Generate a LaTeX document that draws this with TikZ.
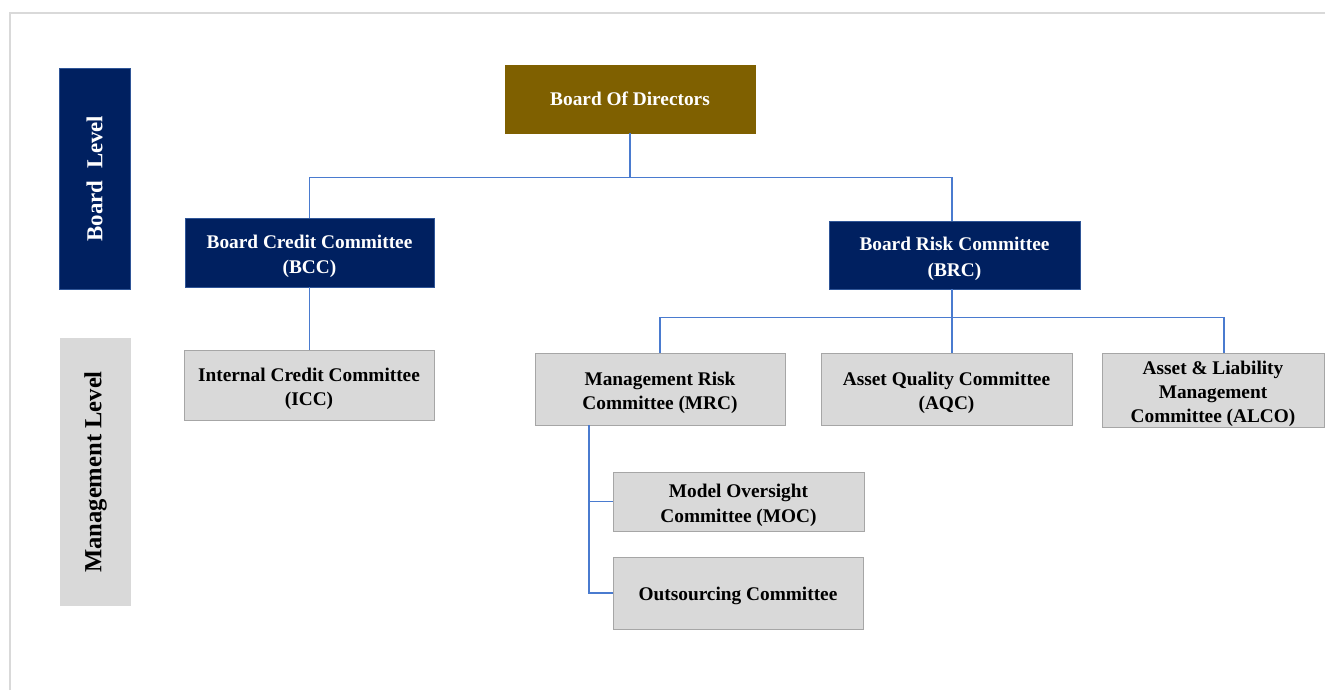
\documentclass[tikz,border=0pt]{standalone}
\usepackage{fontspec}
\setmainfont{Liberation Serif}

\definecolor{navy}{HTML}{002060}
\definecolor{navyedge}{HTML}{2F5597}
\definecolor{gold}{HTML}{7F6000}
\definecolor{boxgray}{HTML}{D9D9D9}
\definecolor{grayedge}{HTML}{A6A6A6}
\definecolor{linkblue}{HTML}{4A7BCF}
\definecolor{framegray}{HTML}{D9D9D9}

\begin{document}
\begin{tikzpicture}[x=0.02cm, y=-0.02cm,
  topbox/.style={draw=gold, fill=gold, text=white, align=center, inner sep=0pt,
    font=\bfseries\fontsize{11}{14.5}\selectfont},
  boardbox/.style={draw=navyedge, fill=navy, text=white, align=center, inner sep=0pt,
    font=\bfseries\fontsize{11}{14.5}\selectfont, text height=26.5pt},
  mgmtbox/.style={draw=grayedge, fill=boxgray, text=black, align=center, inner sep=0pt,
    font=\bfseries\fontsize{11}{14}\selectfont, text height=26pt},
  levelbox/.style={rotate=90, inner sep=0pt, minimum height=1.42cm, font=\bfseries},
  link/.style={linkblue, line width=0.75pt}]
\useasboundingbox (0,0) rectangle (1325,690);
\draw[framegray, line width=1.2pt] (10,690) -- (10,13) -- (1325,13);

% level bands on the left
\node[levelbox, fill=navy, draw=navyedge, text=white, minimum width=4.42cm,
  font=\bfseries\fontsize{13}{15}\selectfont] (boardlvl) at (94.5,178.5) {Board\ \ Level};
\node[levelbox, fill=boxgray, text=black, minimum width=5.36cm,
  font=\bfseries\fontsize{14}{16}\selectfont] (mgmtlvl) at (95.5,472) {Management Level};

% board level
\node[topbox, minimum width=5cm, minimum height=1.36cm] (bod) at (630,99) {Board Of Directors};
\node[boardbox, minimum width=4.98cm, minimum height=1.38cm] (bcc) at (309.5,252.5) {Board Credit Committee\\(BCC)};
\node[boardbox, minimum width=5.02cm, minimum height=1.36cm] (brc) at (954.5,255) {Board Risk Committee\\(BRC)};

% management level
\node[mgmtbox, minimum width=5cm, minimum height=1.4cm] (icc) at (309,385) {Internal Credit Committee\\(ICC)};
\node[mgmtbox, minimum width=5cm, minimum height=1.44cm] (mrc) at (660,389) {Management Risk\\Committee (MRC)};
\node[mgmtbox, minimum width=5.02cm, minimum height=1.44cm] (aqc) at (946.5,389) {Asset Quality Committee\\(AQC)};
\node[mgmtbox, minimum width=4.44cm, minimum height=1.48cm, text height=39pt,
  font=\bfseries\fontsize{11}{13.6}\selectfont] (alco) at (1213,390) {Asset \& Liability\\Management\\Committee (ALCO)};
\node[mgmtbox, minimum width=5.02cm, minimum height=1.18cm] (moc) at (738.5,501.5) {Model Oversight\\Committee (MOC)};
\node[mgmtbox, minimum width=5cm, minimum height=1.44cm, text height=11.5pt] (outc) at (738,593) {Outsourcing Committee};

% connectors
\draw[link] (bod.south) -- ++(0,44) -| (bcc.north);
\draw[link] (bod.south) -- ++(0,44) -| ([xshift=-0.05cm]brc.north);
\draw[link] (bcc.south) -- (bcc.south |- icc.north);
\draw[link] ([xshift=-0.05cm]brc.south) -- ++(0,28) -| (mrc.north);
\draw[link] ([xshift=-0.05cm]brc.south) -- ([xshift=-0.05cm]brc.south |- aqc.north);
\draw[link] ([xshift=-0.05cm]brc.south) -- ++(0,28) -| ([xshift=0.22cm]alco.north);
\coordinate (mrctap) at (589,425);
\draw[link] (mrctap) |- (moc.west);
\draw[link] (mrctap) |- (outc.west);
\end{tikzpicture}
\end{document}
